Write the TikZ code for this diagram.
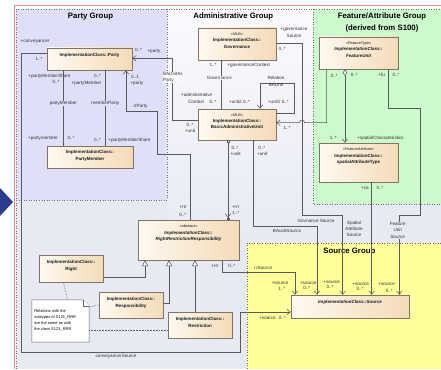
\documentclass[tikz,border=0pt]{standalone}
\usepackage{fontspec}
\setmainfont{Liberation Sans}
\usetikzlibrary{arrows.meta,shadows,calc}
\definecolor{boxl}{HTML}{FFF9F0}
\definecolor{boxr}{HTML}{F3DBB8}
\definecolor{boxline}{HTML}{7F7466}
\definecolor{linec}{HTML}{5A5A5A}
\definecolor{grpline}{HTML}{6E6E6E}
\definecolor{bgl}{HTML}{FAFAFD}
\definecolor{bgd}{HTML}{E7EAF3}
\definecolor{partyc}{HTML}{DFDFF8}
\definecolor{greenc}{HTML}{CDFACD}
\definecolor{yelc}{HTML}{FFFF9C}
\definecolor{framered}{HTML}{D98A8A}
\definecolor{bluetri}{HTML}{2B3A8F}
\newcommand{\stt}[1]{{\fontsize{3.8}{6.4}\selectfont\mdseries #1}}
\begin{document}
\begin{tikzpicture}[x=1pt,y=-1pt,
  cls/.style={draw=boxline, line width=0.45pt, left color=boxl, right color=boxr, inner sep=0pt,
    drop shadow={shadow xshift=1.2pt,shadow yshift=-1.2pt,opacity=0.3,fill=black!60}},
  ctext/.style={font=\fontsize{4.5}{6.4}\selectfont\bfseries, align=center, anchor=north, inner sep=0pt, text=black!90},
  lbl/.style={font=\fontsize{4.6}{6.4}\selectfont, inner sep=0.4pt, text=black!80, align=center},
  title/.style={font=\fontsize{7.8}{9.6}\selectfont\bfseries, inner sep=0pt, align=center},
  assoc/.style={draw=linec, line width=0.55pt},
  barb/.style={-{Straight Barb[length=3.5pt,width=5.5pt]}},
  gen/.style={-{Triangle[open,fill=white,length=6pt,width=6pt]}},
  grp/.style={draw=grpline, dotted, line width=0.55pt},
  notelink/.style={draw=linec, densely dotted, line width=0.55pt},
  notebox/.style={draw=black!60, fill=white, line width=0.45pt},
  notetxt/.style={font=\fontsize{4}{6}\selectfont, align=left, inner sep=0pt, anchor=north west},
]
\useasboundingbox (0,0) rectangle (441,369);
% backgrounds
\fill[white] (0,0) rectangle (441,369);
\fill[bgd] (16,9) rectangle (441,369);
\shade[top color=bgl, bottom color=bgd] (167,9) rectangle (313,245);
\fill[partyc] (16,9) rectangle (167,200);
\fill[greenc] (313,9) rectangle (441,204);
\fill[yelc] (247,243) rectangle (441,369);
\draw[grp] (16,200) -- (167,200) -- (167,9);
\draw[grp] (313,9) -- (313,204) -- (441,204);
\draw[grp] (441,243) -- (247,243) -- (247,369);
\draw[grp] (16,369) -- (16,9) -- (441,9);
\draw[framered, line width=0.7pt] (14,369) -- (14,5.7) -- (441,5.7);
\fill[bluetri] (0,188) -- (13,202) -- (0,216) -- cycle;
% titles
\node[title] (t1) at (90.5,16.3) {Party Group};
\node[title] (t2) at (233.3,16.3) {Administrative Group};
\node[title] (t3) at (382,16.3) {Feature/Attribute Group};
\node[title] (t4) at (382,28) {(derived from S100)};
\node[title] (t5) at (349.3,251.7) {Source Group};
% classes
\node[cls, minimum width=85pt, minimum height=22pt] (party) at (89.5,59) {};
\node[ctext] (partyt) at ([yshift=-5.4pt]party.north) {ImplementationClass::Party};
\node[cls, minimum width=86pt, minimum height=22pt] (pm) at (90,157) {};
\node[ctext] (pmt) at ([yshift=-4.7pt]pm.north) {ImplementationClass::\\PartyMember};
\node[cls, minimum width=78pt, minimum height=32pt] (gov) at (237,44) {};
\node[ctext] (govt) at ([yshift=-4.9pt]gov.north) {\stt{«MLB»}\\ImplementationClass::\\Governance};
\node[cls, minimum width=78pt, minimum height=31pt] (bau) at (237,124.5) {};
\node[ctext] (baut) at ([yshift=-4.6pt]bau.north) {\stt{«MLB»}\\ImplementationClass::\\BasicAdministrativeUnit};
\node[cls, minimum width=79pt, minimum height=32pt] (fu) at (358.5,53) {};
\node[ctext] (fut) at ([yshift=-4.9pt]fu.north) {\stt{\itshape «FeatureType»}\\\itshape ImplementationClass::\\\itshape FeatureUnit};
\node[cls, minimum width=79pt, minimum height=39pt] (sat) at (358.5,162.5) {};
\node[ctext] (satt) at ([yshift=-4.9pt]sat.north) {\stt{\itshape «FeatureAttribute»}\\ImplementationClass::\\spatialAttributeType};
\node[cls, minimum width=101pt, minimum height=40pt] (rrr) at (188.5,240) {};
\node[ctext] (rrrt) at ([yshift=-5.2pt]rrr.north) {\stt{«abstract»}\\\itshape ImplementationClass::\\\itshape RightRestrictionResponsibility};
\node[cls, minimum width=64pt, minimum height=27pt] (right) at (71,268.5) {};
\node[ctext] (rightt) at ([yshift=-5.6pt]right.north) {ImplementationClass::\\Right};
\node[cls, minimum width=64pt, minimum height=26pt] (resp) at (131,305) {};
\node[ctext] (respt) at ([yshift=-5.4pt]resp.north) {ImplementationClass::\\Responsibility};
\node[cls, minimum width=64pt, minimum height=26pt] (restr) at (200,325) {};
\node[ctext] (restrt) at ([yshift=-5.4pt]restr.north) {ImplementationClass::\\Restriction};
\node[cls, minimum width=118pt, minimum height=23pt] (source) at (350,306.5) {};
\node[ctext] (sourcet) at ([yshift=-5.4pt]source.north) {\itshape ImplementationClass::Source};
% note
\node[minimum width=57pt, minimum height=42pt, inner sep=0pt] (note) at (60.5,321) {};
\draw[notebox] (note.north west) -- ([xshift=-6pt]note.north east) -- ([yshift=-6pt]note.north east) -- (note.south east) -- (note.south west) -- cycle;
\draw[notebox] ([xshift=-6pt]note.north east) -- ([xshift=-6pt,yshift=-6pt]note.north east) -- ([yshift=-6pt]note.north east);
\node[notetxt] (notet) at ([xshift=2.3pt,yshift=-9.2pt]note.north west) {Relations with the\\subtypes of S121\_RRR\\are the same as with\\the class S121\_RRR};
% connectors
\draw[assoc, barb] (party.west |- 0,53.3) -| (21.3,352.3) -| (240,312) -- (source.west |- 0,312);
\draw[assoc] (party.south -| 63.3,0) -- (pm.north -| 63.3,0);
\draw[assoc] (party.south -| 105.3,0) -- (pm.north -| 105.3,0);
\draw[assoc, barb] (rrr.north -| 190.7,0) |- (157.3,154) |- (126,111.7) -- (party.south -| 126,0);
\draw[assoc, barb] (bau.west |- 0,120) -| (172.7,58.3) -- (party.east |- 0,58.3);
\draw[assoc] (gov.south -| 221,0) -- (bau.north -| 221,0);
\draw[assoc, barb] (bau.east |- 0,113) -| (294.3,83.3) -| (bau.north -| 260,0);
\draw[assoc, barb] (fu.south -| 326.7,0) |- (304.5,122.7) .. controls (304.5,119.2) and (299.5,119.2) .. (299.5,122.7) -- (bau.east |- 0,122.7);
\draw[assoc, {Diamond[open,fill=white,length=7pt,width=4.5pt]}-{Straight Barb[length=3.5pt,width=5.5pt]}] (fu.south -| 345,0) -- (sat.north -| 345,0);
\draw[assoc, barb] (gov.east |- 0,43.3) -| (302,215) -| (source.north -| 342.7,0);
\draw[assoc, barb] (bau.south -| 253.3,0) |- (317,226.7) -- (source.north -| 317,0);
\draw[assoc, {Square[open,fill=white,length=2.2pt,width=2.2pt]}-{Straight Barb[length=3.5pt,width=5.5pt] Square[open,fill=white,length=2.2pt,width=2.2pt]}] (bau.south -| 228,0) -- (rrr.north -| 228,0);
\draw[assoc, gen] (right.east |- 0,277.3) -| (rrr.south -| 145,0);
\draw[assoc, gen] (resp.east |- 0,303.3) -| (rrr.south -| 169,0);
\draw[assoc, gen] (restr.north -| 195,0) -- (rrr.south -| 195,0);
\draw[assoc, barb] (rrr.south -| 222.7,0) |- (295,272.7) -- (source.north -| 295,0);
\draw[assoc, barb] (sat.south -| 371.7,0) -- (source.north -| 371.7,0);
\draw[assoc, barb] (fu.south -| 388.3,0) |- (420,108.3) |- (399.3,215) -- (source.north -| 399.3,0);
\draw[notelink] (right.south -| 63.3,0) -- (note.north -| 67.7,0);
\draw[notelink] (note.east |- 0,307) -- (resp.west |- 0,305);
\draw[notelink] (note.east |- 0,330) -- (restr.west |- 0,330);
% labels party group
\node[lbl] (l1) at (35,42) {+conveyancer};
\node[lbl] (l2) at (39,59) {1..*};
\node[lbl] (l3) at (138.5,49.5) {0..*};
\node[lbl] (l4) at (154,51) {+party};
\node[lbl] (l5) at (135,76.7) {0..1};
\node[lbl] (l6) at (137,83.3) {+party};
\node[lbl] (l7) at (140.5,106) {rrParty};
\node[lbl] (l8) at (49.5,76) {+partyMemberShare};
\node[lbl] (l9) at (56,82) {0..*};
\node[lbl] (l10) at (97.5,76.3) {0..*};
\node[lbl] (l11) at (86.5,83.3) {+partyMember};
\node[lbl, fill=partyc] (l12) at (63.3,103.7) {partyMember};
\node[lbl, fill=partyc] (l13) at (105.3,103.7) {memberParty};
\node[lbl] (l14) at (43,138.3) {+partymember};
\node[lbl] (l15) at (71,138.3) {0..*};
\node[lbl] (l16) at (97.5,140.3) {0..*};
\node[lbl] (l17) at (129.5,140.3) {+partyMemberShare};
% labels admin group
\node[lbl, fill=bgl, anchor=west, align=left] (l18) at (162.5,77.5) {BAUnitAs\\Party};
\node[lbl] (l19) at (294,32.5) {+governance\\Source};
\node[lbl] (l20) at (282,49) {0..*};
\node[lbl] (l21) at (213,65) {1..*};
\node[lbl] (l22) at (248.7,65) {+governanceContext};
\node[lbl, fill=bgl] (l23) at (219.3,78.3) {Governance};
\node[lbl] (l24) at (196.7,95) {+administrative};
\node[lbl] (l25) at (196,101.7) {Context};
\node[lbl] (l26) at (213,101.7) {0..*};
\node[lbl] (l27) at (239.5,101.7) {+unit2 0..*};
\node[lbl] (l28) at (278.3,102.3) {+unit1 0..*};
\node[lbl] (l29) at (276,78.3) {Relation};
\node[lbl] (l30) at (276,84.7) {BAUnit};
\node[lbl] (l31) at (190,125) {0..*};
\node[lbl] (l32) at (190,130.7) {+unit};
\node[lbl] (l33) at (287,128.3) {1..*};
\node[lbl] (l34) at (235,147.7) {0..*};
\node[lbl] (l35) at (235.7,154.3) {+unit};
\node[lbl] (l36) at (261.7,147.7) {0..*};
\node[lbl] (l37) at (262.3,154.3) {+unit};
\node[lbl] (l38) at (235.7,207.3) {+rrr};
\node[lbl] (l39) at (235.7,213.3) {1..*};
\node[lbl] (l40) at (183.3,206.7) {+rrr};
\node[lbl] (l41) at (182.7,215) {0..*};
% labels feature group
\node[lbl] (l42) at (334.3,76) {0..*};
\node[lbl] (l43) at (354.3,74.7) {0..*};
\node[lbl] (l44) at (381.7,75) {+fu};
\node[lbl] (l45) at (396,75) {0..*};
\node[lbl] (l46) at (333.3,138.3) {1..*};
\node[lbl] (l47) at (380.5,138.3) {+spatialCharacteristics};
\node[lbl] (l48) at (365,188.3) {+sa};
\node[lbl] (l49) at (380,188.3) {0..*};
% labels bottom
\node[lbl] (l50) at (316,221) {Govnance Source};
\node[lbl] (l51) at (287,231) {BAunitSource};
\node[lbl] (l52) at (354,228.8) {Spatial\\Attribute\\Source};
\node[lbl, fill=bgd] (l53) at (397.7,230.2) {Feature\\Unit\\Source};
\node[lbl] (l54) at (215,266) {+rrr};
\node[lbl] (l55) at (231.7,266) {0..*};
\node[lbl] (l56) at (263.3,267.7) {rrSource};
\node[lbl] (l57a) at (280,283.3) {+source};
\node[lbl] (l57b) at (281.7,289.3) {1..*};
\node[lbl] (l58a) at (308.3,282.7) {+source};
\node[lbl] (l58b) at (306.7,287.5) {0..*};
\node[lbl] (l59a) at (331.7,281.7) {+source};
\node[lbl] (l59b) at (330,287.3) {0..*};
\node[lbl] (l60a) at (360.7,284.3) {+source};
\node[lbl] (l60b) at (360,289.3) {0..*};
\node[lbl] (l61a) at (386.7,284.3) {+source};
\node[lbl] (l61b) at (389.3,290.7) {0..*};
\node[lbl] (l62) at (272.5,318.3) {+source\hspace{3pt}0..*};
\node[lbl] (l63) at (116,356.7) {conveyancerSource};
\end{tikzpicture}
\end{document}
